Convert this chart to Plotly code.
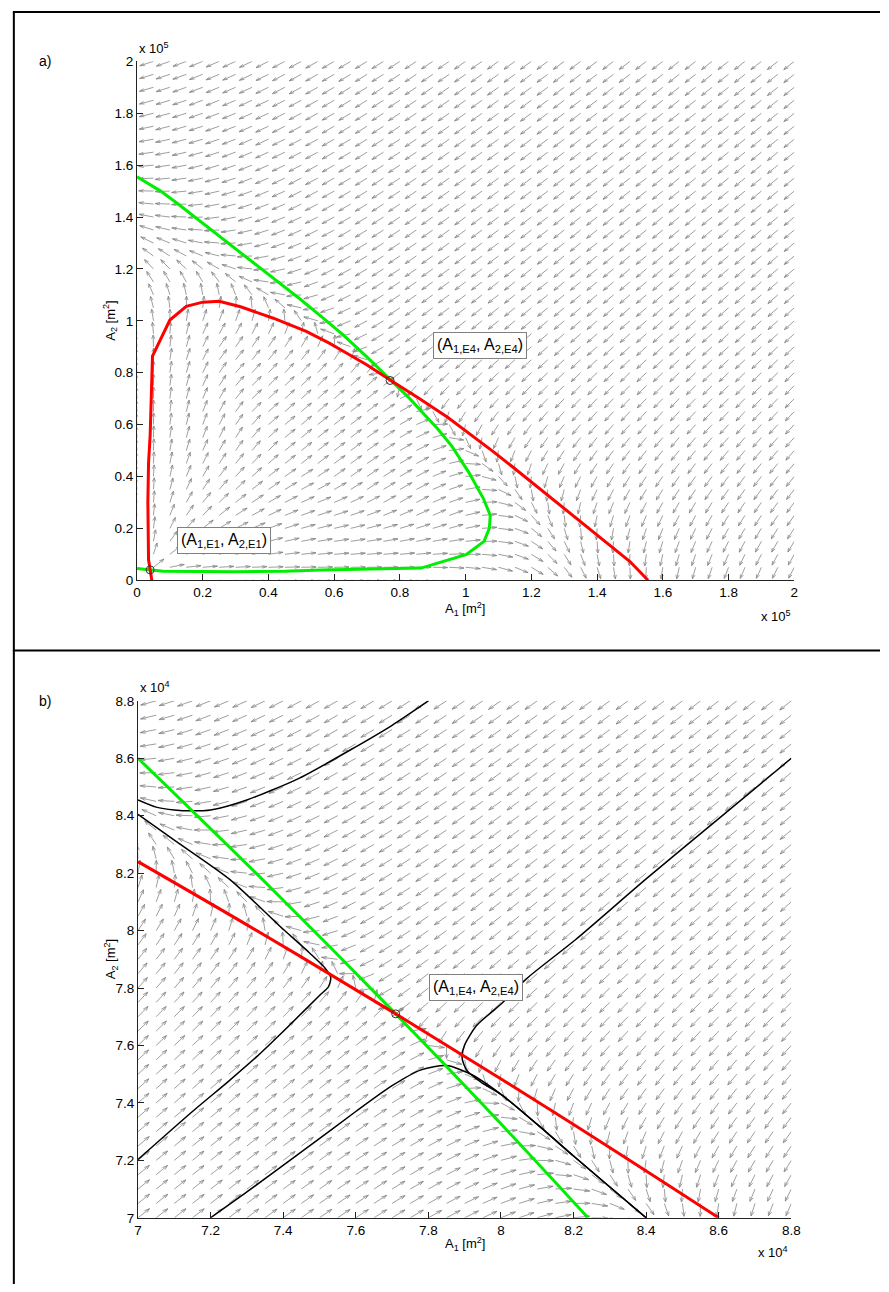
import numpy as np
import plotly.graph_objects as go

# ---------------- data ----------------
# Panel a: nullclines (units of 1e5 m^2)
red_a_x = [0.045, 0.035, 0.033, 0.035, 0.040, 0.047, 0.100, 0.150, 0.200, 0.250, 0.315,
           0.415, 0.515, 0.585, 0.645, 0.700, 0.775, 0.860, 0.945, 1.015, 1.085, 1.150,
           1.220, 1.300, 1.380, 1.450, 1.500, 1.555]
red_a_y = [0.000, 0.080, 0.300, 0.450, 0.560, 0.864, 1.003, 1.056, 1.072, 1.075, 1.054,
           1.010, 0.959, 0.914, 0.870, 0.830, 0.768, 0.700, 0.628, 0.562, 0.495, 0.430,
           0.358, 0.278, 0.196, 0.125, 0.072, 0.000]
green_a_x = [0.000, 0.072, 0.125, 0.196, 0.278, 0.358, 0.430, 0.495, 0.562, 0.628, 0.700,
             0.768, 0.830, 0.870, 0.914, 0.959, 1.010, 1.054, 1.075, 1.072, 1.056, 1.003,
             0.864, 0.560, 0.450, 0.300, 0.080, 0.000]
green_a_y = [1.555, 1.500, 1.450, 1.380, 1.300, 1.220, 1.150, 1.085, 1.015, 0.945, 0.860,
             0.775, 0.700, 0.645, 0.585, 0.515, 0.415, 0.315, 0.250, 0.200, 0.150, 0.100,
             0.047, 0.040, 0.035, 0.033, 0.035, 0.045]
eq_a_x = [0.77, 0.04]
eq_a_y = [0.77, 0.04]

# Panel b: nullclines and trajectories (units of 1e4 m^2)
red_b_x = [7.000, 7.350, 7.710, 8.150, 8.600]
red_b_y = [8.240, 7.983, 7.710, 7.365, 7.000]
green_b_x = [7.000, 7.365, 7.710, 7.983, 8.240]
green_b_y = [8.600, 8.150, 7.710, 7.350, 7.000]
eq_b_x = [7.71]
eq_b_y = [7.71]

traj1_x = [7.000, 7.050, 7.100, 7.147, 7.200, 7.300, 7.445, 7.600, 7.700, 7.800]
traj1_y = [8.455, 8.430, 8.420, 8.417, 8.420, 8.455, 8.531, 8.640, 8.715, 8.800]
traj2_x = [7.000, 7.100, 7.255, 7.391, 7.472, 7.515, 7.531, 7.525, 7.500, 7.409,
           7.328, 7.250, 7.150, 7.000]
traj2_y = [8.405, 8.315, 8.176, 8.015, 7.923, 7.870, 7.837, 7.805, 7.774, 7.660,
           7.562, 7.476, 7.370, 7.203]
traj3_x = [7.200, 7.300, 7.481, 7.600, 7.700, 7.780, 7.850, 7.920, 8.000, 8.100,
           8.200, 8.300, 8.400]
traj3_y = [7.000, 7.090, 7.258, 7.370, 7.460, 7.515, 7.530, 7.498, 7.430, 7.325,
           7.215, 7.107, 7.000]
traj4_x = [8.800, 8.600, 8.400, 8.206, 8.070, 8.002, 7.934, 7.900, 7.893, 7.905,
           7.945, 8.000, 8.100, 8.200, 8.300, 8.400]
traj4_y = [8.600, 8.390, 8.180, 7.969, 7.832, 7.746, 7.671, 7.602, 7.556, 7.515,
           7.472, 7.430, 7.325, 7.215, 7.107, 7.000]

# tick values
ticks_a = [0, 0.2, 0.4, 0.6, 0.8, 1, 1.2, 1.4, 1.6, 1.8, 2]
ticks_b = [7, 7.2, 7.4, 7.6, 7.8, 8, 8.2, 8.4, 8.6, 8.8]

# ---------------- helpers ----------------
W, H = 889, 1292


def px(x):
    return x / W


def py(y):
    return 1 - y / H


def extend(cx, cy, L=3.0):
    cx = np.asarray(cx, float)
    cy = np.asarray(cy, float)
    d0 = np.array([cx[0] - cx[1], cy[0] - cy[1]])
    d0 /= np.hypot(*d0)
    d1 = np.array([cx[-1] - cx[-2], cy[-1] - cy[-2]])
    d1 /= np.hypot(*d1)
    ex = np.concatenate([[cx[0] + L * d0[0]], cx, [cx[-1] + L * d1[0]]])
    ey = np.concatenate([[cy[0] + L * d0[1]], cy, [cy[-1] + L * d1[1]]])
    return ex, ey


def dist_polyline(X, Y, cx, cy):
    d = np.full(X.shape, np.inf)
    for i in range(len(cx) - 1):
        ax, ay, bx, by = cx[i], cy[i], cx[i + 1], cy[i + 1]
        dx, dy = bx - ax, by - ay
        t = np.clip(((X - ax) * dx + (Y - ay) * dy) / (dx * dx + dy * dy), 0, 1)
        d = np.minimum(d, np.hypot(X - ax - t * dx, Y - ay - t * dy))
    return d


def inside_poly(X, Y, qx, qy):
    inside = np.zeros(X.shape, bool)
    n = len(qx)
    j = n - 1
    with np.errstate(divide="ignore", invalid="ignore"):
        for i in range(n):
            xi, yi, xj, yj = qx[i], qy[i], qx[j], qy[j]
            cross = (yi > Y) != (yj > Y)
            xint = (xj - xi) * (Y - yi) / (yj - yi) + xi
            inside ^= cross & (X < xint)
            j = i
    return inside


def signed(X, Y, cx, cy, closure):
    # signed distance to a nullcline: positive on the side where the rate is positive
    ex, ey = extend(cx, cy)
    d = dist_polyline(X, Y, ex, ey)
    qx = list(ex) + [c[0] for c in closure]
    qy = list(ey) + [c[1] for c in closure]
    s = np.where(inside_poly(X, Y, qx, qy), 1.0, -1.0)
    return s * d


def quiver_xy(xs, ys, rx, ry, rclos, gx, gy, gclos, step):
    X, Y = np.meshgrid(xs, ys)
    U = signed(X, Y, rx, ry, rclos)
    V = signed(X, Y, gx, gy, gclos)
    N = np.maximum(np.hypot(U, V), 1e-12)
    U = U / N * 0.9 * step
    V = V / N * 0.9 * step
    a, b = 0.33, 0.33
    lx, ly = [], []
    for x, y, u, v in zip(X.ravel(), Y.ravel(), U.ravel(), V.ravel()):
        hx, hy = x + u, y + v
        lx += [x, hx, None,
               hx - a * (u + b * v), hx, hx - a * (u - b * v), None]
        ly += [y, hy, None,
               hy - a * (v - b * u), hy, hy - a * (v + b * u), None]
    return lx, ly


# ---------------- figure ----------------
fig = go.Figure()

arrow_style = dict(color="#858585", width=0.8)

qa_x, qa_y = quiver_xy(np.linspace(0, 2, 41), np.linspace(0, 2, 41),
                       red_a_x, red_a_y, [(4, -6), (-1, -6)],
                       green_a_x, green_a_y, [(-6, -1), (-6, 4)], 0.05)
fig.add_trace(go.Scatter(x=qa_x, y=qa_y, mode="lines", line=arrow_style,
                         hoverinfo="skip", xaxis="x", yaxis="y"))
fig.add_trace(go.Scatter(x=green_a_x, y=green_a_y, mode="lines",
                         line=dict(color="#00ee00", width=3), xaxis="x", yaxis="y"))
fig.add_trace(go.Scatter(x=red_a_x, y=red_a_y, mode="lines",
                         line=dict(color="#ff0000", width=3), xaxis="x", yaxis="y"))
fig.add_trace(go.Scatter(x=eq_a_x, y=eq_a_y, mode="markers",
                         marker=dict(symbol="circle-open", size=8, color="#333333",
                                     line=dict(width=1)),
                         xaxis="x", yaxis="y", cliponaxis=False))

qb_x, qb_y = quiver_xy(np.linspace(7, 8.8, 37), np.linspace(7, 8.8, 37),
                       red_b_x, red_b_y, [(0, 0)],
                       green_b_x, green_b_y, [(0, 0)], 0.05)
fig.add_trace(go.Scatter(x=qb_x, y=qb_y, mode="lines", line=arrow_style,
                         hoverinfo="skip", xaxis="x2", yaxis="y2"))
for tx, ty in [(traj1_x, traj1_y), (traj2_x, traj2_y), (traj3_x, traj3_y), (traj4_x, traj4_y)]:
    fig.add_trace(go.Scatter(x=tx, y=ty, mode="lines",
                             line=dict(color="black", width=1.5, shape="spline", smoothing=0.7),
                             xaxis="x2", yaxis="y2"))
fig.add_trace(go.Scatter(x=green_b_x, y=green_b_y, mode="lines",
                         line=dict(color="#00ee00", width=3, shape="spline"), xaxis="x2", yaxis="y2"))
fig.add_trace(go.Scatter(x=red_b_x, y=red_b_y, mode="lines",
                         line=dict(color="#ff0000", width=3, shape="spline"), xaxis="x2", yaxis="y2"))
fig.add_trace(go.Scatter(x=eq_b_x, y=eq_b_y, mode="markers",
                         marker=dict(symbol="circle-open", size=8, color="#333333",
                                     line=dict(width=1)),
                         xaxis="x2", yaxis="y2"))

font = "Liberation Sans, Arial, sans-serif"
axis_common = dict(showgrid=False, zeroline=False, showline=True, linecolor="#222222",
                   linewidth=1, ticks="inside", ticklen=6, tickcolor="#222222",
                   tickfont=dict(family=font, size=13.5, color="black"), mirror=False)

fig.update_layout(
    width=W, height=H, autosize=False, showlegend=False,
    margin=dict(l=0, r=0, t=0, b=0),
    paper_bgcolor="white", plot_bgcolor="white",
    xaxis=dict(domain=[px(135), px(802)], range=[0, 2], tickvals=ticks_a,
               ticktext=[f"{t:g}" for t in ticks_a], anchor="y", **axis_common),
    yaxis=dict(domain=[py(580), py(55)], range=[0, 2], tickvals=ticks_a,
               ticktext=[f"{t:g}" for t in ticks_a], anchor="x", **axis_common),
    xaxis2=dict(domain=[px(136), px(799)], range=[7, 8.8], tickvals=ticks_b,
                ticktext=[f"{t:g}" for t in ticks_b], anchor="y2", **axis_common),
    yaxis2=dict(domain=[py(1225), py(702)], range=[7, 8.8], tickvals=ticks_b,
                ticktext=[f"{t:g}" for t in ticks_b], anchor="x2", **axis_common),
)

# frame around the two panels
frame = dict(type="line", xref="paper", yref="paper", line=dict(color="black", width=2))
fig.add_shape(x0=px(9), x1=px(889), y0=py(5), y1=py(5), **frame)
fig.add_shape(x0=px(10), x1=px(10), y0=py(5), y1=py(1292), **frame)
fig.add_shape(x0=px(9), x1=px(889), y0=py(651), y1=py(651), **frame)

ann = []


def text(x, y, s, size=12, xanchor="center", yanchor="middle", angle=0):
    ann.append(dict(x=px(x), y=py(y), xref="paper", yref="paper", text=s, showarrow=False,
                    font=dict(family=font, size=size, color="black"),
                    xanchor=xanchor, yanchor=yanchor, textangle=angle))


text(42, 55, "a)", 14)
text(42, 702, "b)", 14)
# panel a axis texts
text(135, 41, "x 10<sup>5</sup>", 13, xanchor="left")
text(801, 616, "x 10<sup>5</sup>", 13, xanchor="right")
text(468, 609, "A<sub>1</sub> [m<sup>2</sup>]", 13)
text(108, 317, "A<sub>2</sub> [m<sup>2</sup>]", 13, angle=-90)
# panel b axis texts
text(136, 688, "x 10<sup>4</sup>", 13, xanchor="left")
text(798, 1260, "x 10<sup>4</sup>", 13, xanchor="right")
text(468, 1252, "A<sub>1</sub> [m<sup>2</sup>]", 13)
text(108, 963, "A<sub>2</sub> [m<sup>2</sup>]", 13, angle=-90)

box = dict(showarrow=False, bgcolor="white", bordercolor="#808080", borderwidth=1,
           borderpad=3, font=dict(family=font, size=16, color="black"))
ann.append(dict(x=1.044, y=0.903, xref="x", yref="y", text="(A<sub>1,E4</sub>, A<sub>2,E4</sub>)", **box))
ann.append(dict(x=0.266, y=0.152, xref="x", yref="y", text="(A<sub>1,E1</sub>, A<sub>2,E1</sub>)", **box))
ann.append(dict(x=7.932, y=7.802, xref="x2", yref="y2", text="(A<sub>1,E4</sub>, A<sub>2,E4</sub>)", **box))
fig.update_layout(annotations=ann)

fig.write_html("out.html")
